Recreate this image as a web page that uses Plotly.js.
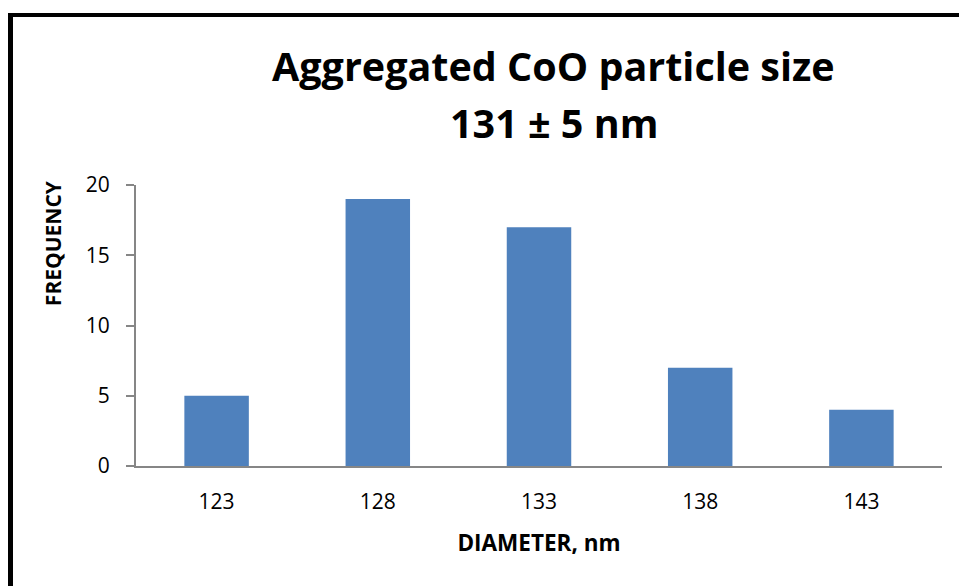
<!DOCTYPE html>
<html>
<head>
<meta charset="utf-8">
<script src="https://cdn.plot.ly/plotly-3.0.1.min.js"></script>
<style>
  html, body { margin: 0; padding: 0; background: #fff; }
  #wrap { position: relative; width: 959px; height: 586px; overflow: hidden; }
  #chart { position: absolute; left: 0; top: 0; width: 959px; height: 586px; }
  #frame { position: absolute; left: 8px; top: 13px; width: 1000px; height: 1000px;
           border-left: 5px solid #000; border-top: 4px solid #000; pointer-events: none; }
</style>
</head>
<body>
<div id="wrap">
  <div id="chart"></div>
  <div id="frame"></div>
</div>
<script>
// Particle diameter bins (nm) and how many particles fell in each
const diameters = ['123', '128', '133', '138', '143'];
const frequency = [5, 19, 17, 7, 4];
const yTicks = [0, 5, 10, 15, 20];
const titleLines = ['Aggregated CoO particle size', '131 ± 5 nm'];

const FONT = 'Open Sans, Noto Sans, sans-serif';
const AXIS_GREY = '#868686';

const trace = {
  type: 'bar',
  x: diameters,
  y: frequency,
  marker: { color: '#4F81BD', line: { width: 0 } },
  hoverinfo: 'x+y'
};

// Two-line heading and the vertical axis label, placed relative to the plot area
const annotations = [
  { text: '<b>' + titleLines[0] + '</b>', x: 0.518, y: 1.424 },
  { text: '<b>' + titleLines[1] + '</b>', x: 0.518, y: 1.22 }
].map(a => Object.assign(a, {
  xref: 'paper', yref: 'paper', xanchor: 'center', yanchor: 'middle',
  showarrow: false, font: { family: FONT, size: 39.5, color: '#000' }
}));

annotations.push({
  text: '<b>FREQUENCY</b>', textangle: -90,
  xref: 'paper', yref: 'paper', x: -0.103, y: 0.793,
  xanchor: 'center', yanchor: 'middle', showarrow: false,
  font: { family: FONT, size: 21, color: '#000' }
});

const layout = {
  width: 959,
  height: 586,
  margin: { l: 136, r: 17, t: 185, b: 120 },
  paper_bgcolor: '#fff',
  plot_bgcolor: '#fff',
  bargap: 0.6,
  showlegend: false,
  font: { family: FONT, color: '#000' },
  annotations: annotations,
  xaxis: {
    type: 'category',
    showline: true, linecolor: AXIS_GREY, linewidth: 2,
    ticks: '', showgrid: false, zeroline: false,
    tickfont: { family: FONT, size: 21, color: '#000' },
    ticklabelstandoff: 16,
    title: { text: '<b>DIAMETER, nm</b>', font: { family: FONT, size: 22.5, color: '#000' }, standoff: 21 }
  },
  yaxis: {
    range: [0, 20],
    tickvals: yTicks,
    showline: true, linecolor: AXIS_GREY, linewidth: 2,
    ticks: 'outside', ticklen: 8, tickwidth: 2, tickcolor: AXIS_GREY,
    showgrid: false, zeroline: false,
    tickfont: { family: FONT, size: 21, color: '#000' },
    ticklabelstandoff: 12
  }
};

Plotly.newPlot('chart', [trace], layout, { staticPlot: true, displayModeBar: false });
</script>
</body>
</html>
